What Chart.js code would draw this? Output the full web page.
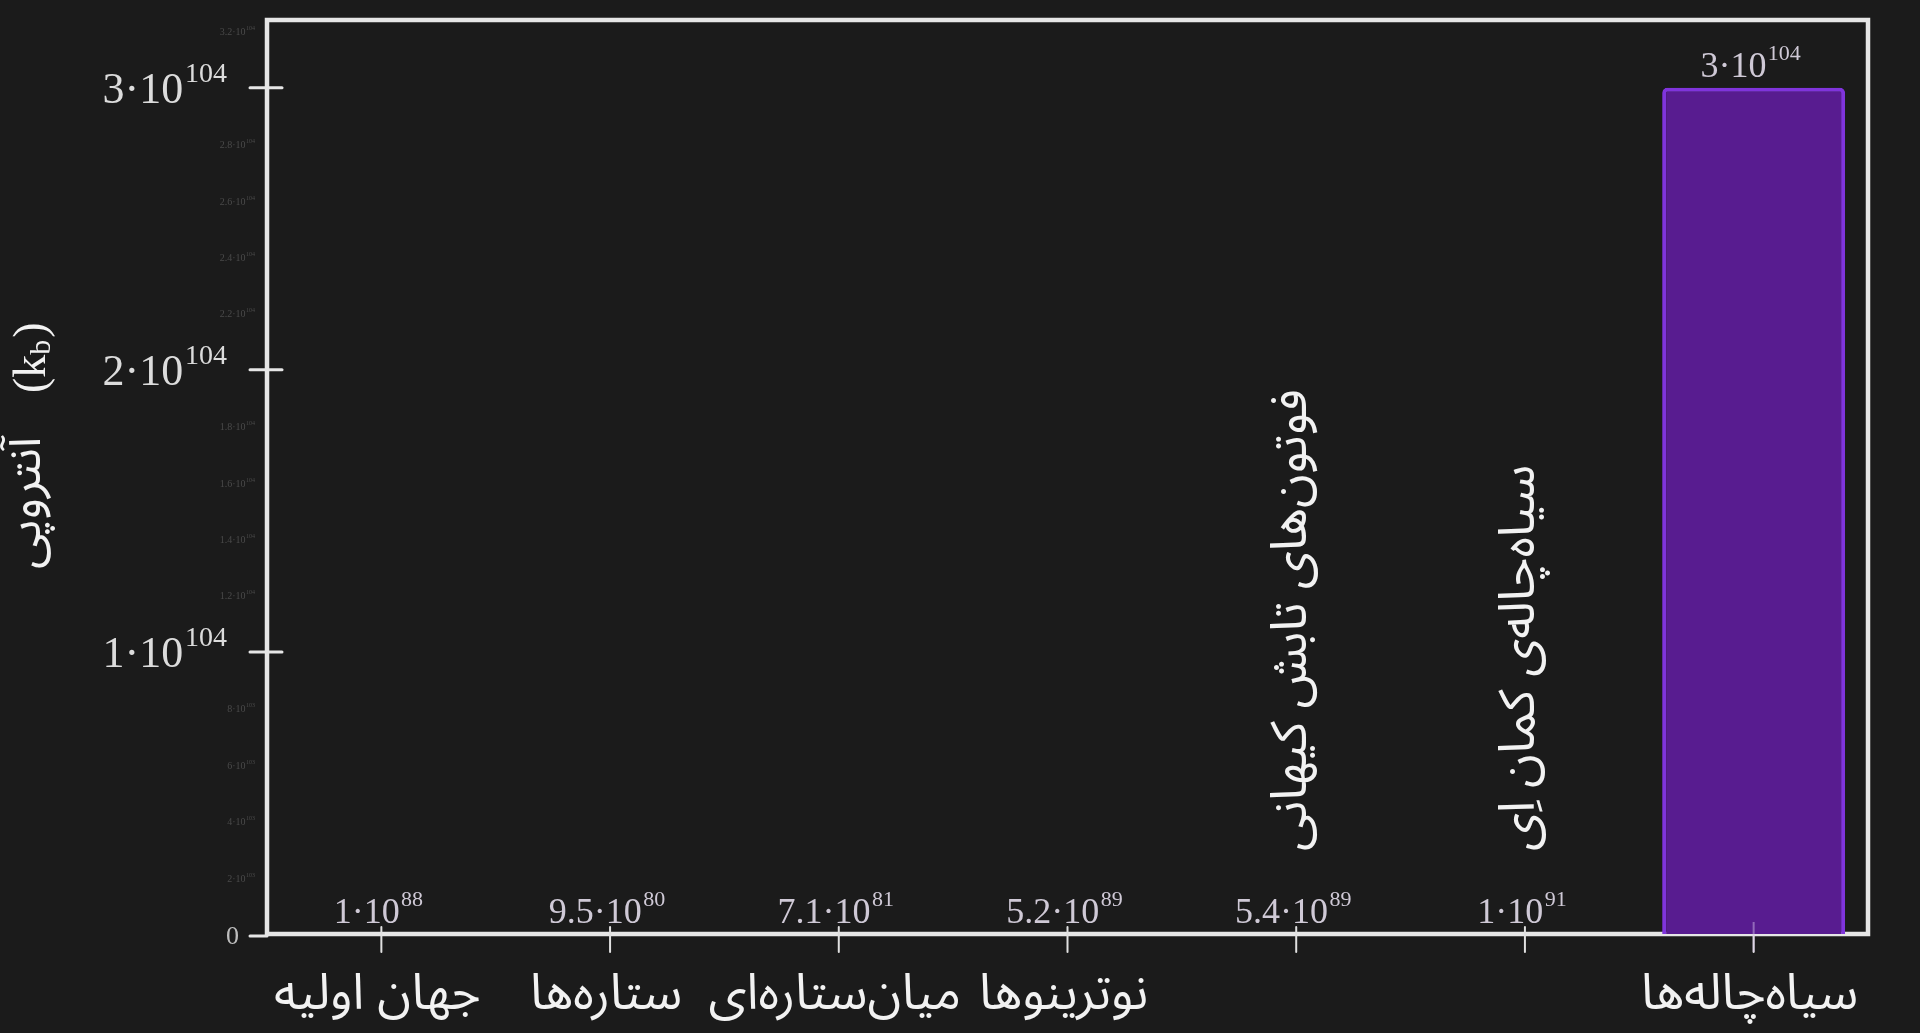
<!DOCTYPE html>
<html>
<head>
<meta charset="utf-8">
<script src="https://cdn.jsdelivr.net/npm/chart.js@4/dist/chart.umd.min.js"></script>
<style>
  html, body { margin: 0; padding: 0; background: #1b1b1b; }
  #wrap { position: relative; width: 1920px; height: 1033px; }
</style>
</head>
<body>
<div id="wrap"><canvas id="entropyChart"></canvas></div>
<script>
const categories = [
  'جهان اولیه',
  'ستاره\u200cها',
  'میان\u200cستاره\u200cای',
  'نوترینوها',
  'فوتون\u200cهای تابش کیهانی',
  'سیاه\u200cچاله\u200cی کمان ا\u0650ی',
  'سیاه\u200cچاله\u200cها',
];
const verticalLabel = [false, false, false, false, true, true, false];

const entropy       = [1e88, 9.5e80, 7.1e81, 5.2e89, 5.4e89, 1e91, 3e104];
const valueMantissa = ['1', '9.5', '7.1', '5.2', '5.4', '1', '3'];
const valueExponent = ['88', '80', '81', '89', '89', '91', '104'];

const yMax = 3.24e104;
const majorTicks    = [1e104, 2e104, 3e104];
const majorMantissa = ['1', '2', '3'];
const majorExponent = ['104', '104', '104'];
const minorTicks    = [2e103, 4e103, 6e103, 8e103, 1.2e104, 1.4e104, 1.6e104, 1.8e104,
                       2.2e104, 2.4e104, 2.6e104, 2.8e104, 3.2e104];
const minorMantissa = ['2', '4', '6', '8', '1.2', '1.4', '1.6', '1.8', '2.2', '2.4', '2.6', '2.8', '3.2'];
const minorExponent = ['103', '103', '103', '103', '104', '104', '104', '104', '104', '104', '104', '104', '104'];

const yTitle = 'آنتروپی';
const yUnit  = ['k', 'b'];

const SERIF = '"Liberation Serif", "DejaVu Serif", serif';
const FA    = '"Noto Sans Arabic", "Vazirmatn", "DejaVu Sans", sans-serif';

// mantissa·10^exp, x is the anchor, align 'center' | 'right'
function drawPow(ctx, mant, exp, x, y, size, supSize, raise, align, color) {
  ctx.save();
  ctx.fillStyle = color;
  ctx.textBaseline = 'alphabetic';
  ctx.textAlign = 'left';
  const main = mant + '\u00b7' + '10';
  ctx.font = `${size}px ${SERIF}`;
  const w1 = ctx.measureText(main).width;
  ctx.font = `${supSize}px ${SERIF}`;
  const w2 = ctx.measureText(exp).width;
  const gap = size * 0.04;
  const total = w1 + gap + w2;
  let x0 = align === 'right' ? x - total : x - total / 2;
  ctx.font = `${size}px ${SERIF}`;
  ctx.fillText(main, x0, y);
  ctx.font = `${supSize}px ${SERIF}`;
  ctx.fillText(exp, x0 + w1 + gap, y - raise);
  ctx.restore();
}

const framePlugin = {
  id: 'frame',
  beforeDatasetsDraw(chart) {
    const { ctx, chartArea: a, scales: { x, y } } = chart;
    ctx.save();
    ctx.strokeStyle = '#e6e6e6';
    ctx.lineCap = 'round';
    ctx.lineWidth = 4.5;
    ctx.strokeRect(a.left, a.top, a.right - a.left, a.bottom - a.top);

    // y major tick marks
    ctx.lineWidth = 3;
    majorTicks.forEach(v => {
      const py = y.getPixelForValue(v);
      ctx.beginPath(); ctx.moveTo(a.left - 17, py); ctx.lineTo(a.left + 15, py); ctx.stroke();
    });
    const p0 = y.getPixelForValue(0);
    ctx.beginPath(); ctx.moveTo(a.left - 17, p0 + 2); ctx.lineTo(a.left, p0 + 2); ctx.stroke();

    // x tick marks
    ctx.lineWidth = 2;
    ctx.strokeStyle = '#e0e0e0';
    categories.forEach((c, i) => {
      const px = x.getPixelForValue(i);
      ctx.beginPath(); ctx.moveTo(px, a.bottom - 7); ctx.lineTo(px, a.bottom + 18); ctx.stroke();
    });
    ctx.restore();
  },
  afterDatasetsDraw(chart) {
    const { ctx, chartArea: a, scales: { x, y } } = chart;
    const meta = chart.getDatasetMeta(0);

    // tick showing through the bar
    ctx.save();
    ctx.strokeStyle = 'rgba(220,200,240,0.45)';
    ctx.lineWidth = 2;
    const last = entropy.length - 1;
    const bx = x.getPixelForValue(last);
    ctx.beginPath(); ctx.moveTo(bx, a.bottom - 12); ctx.lineTo(bx, a.bottom + 18); ctx.stroke();
    ctx.restore();

    // value labels
    meta.data.forEach((bar, i) => {
      drawPow(ctx, valueMantissa[i], valueExponent[i], bar.x - 3, bar.y - 11,
        36, 22, 17, 'center', '#cfc9d6');
    });

    // y major labels
    majorTicks.forEach((v, i) => {
      drawPow(ctx, majorMantissa[i], majorExponent[i], 227, y.getPixelForValue(v) + 15,
        44, 28, 21, 'right', '#dcdcdc');
    });
    ctx.save();
    ctx.fillStyle = '#bdbdbd';
    ctx.font = `26px ${SERIF}`;
    ctx.textAlign = 'right';
    ctx.textBaseline = 'middle';
    ctx.fillText('0', 239, y.getPixelForValue(0) + 3);
    ctx.restore();

    // y minor labels
    minorTicks.forEach((v, i) => {
      drawPow(ctx, minorMantissa[i], minorExponent[i], 255, y.getPixelForValue(v) + 4,
        10, 6, 5, 'right', '#4a4a4a');
    });

    // category labels
    ctx.save();
    ctx.fillStyle = '#f2f2f2';
    ctx.font = `50px ${FA}`;
    categories.forEach((c, i) => {
      const px = x.getPixelForValue(i);
      if (verticalLabel[i]) {
        ctx.save();
        ctx.translate(px + 2, 851);
        ctx.rotate(-Math.PI / 2);
        ctx.textAlign = 'left';
        ctx.textBaseline = 'middle';
        ctx.fillText(c, 0, 0);
        ctx.restore();
      } else {
        ctx.textAlign = 'center';
        ctx.textBaseline = 'middle';
        ctx.fillText(c, px - 4, 1001);
      }
    });
    ctx.restore();

    // y axis title
    ctx.save();
    ctx.translate(33, 503);
    ctx.rotate(-Math.PI / 2);
    ctx.fillStyle = '#f2f2f2';
    ctx.textBaseline = 'middle';
    ctx.textAlign = 'center';
    ctx.font = `48px ${FA}`;
    ctx.fillText(yTitle, 0, 0);
    ctx.textAlign = 'left';
    ctx.font = `46px ${SERIF}`;
    const ux = 110;
    const s1 = '(' + yUnit[0];
    ctx.fillText(s1, ux, 0);
    const w1 = ctx.measureText(s1).width;
    ctx.font = `30px ${SERIF}`;
    ctx.fillText(yUnit[1], ux + w1, 9);
    const w2 = ctx.measureText(yUnit[1]).width;
    ctx.font = `46px ${SERIF}`;
    ctx.fillText(')', ux + w1 + w2 + 2, 0);
    ctx.restore();
  },
};

new Chart(document.getElementById('entropyChart'), {
  type: 'bar',
  data: {
    labels: categories,
    datasets: [{
      data: entropy,
      backgroundColor: '#581c90',
      borderColor: '#8034dc',
      borderWidth: 4,
      borderRadius: 5,
      barPercentage: 0.8,
      categoryPercentage: 1.0,
    }],
  },
  options: {
    responsive: true,
    maintainAspectRatio: false,
    animation: false,
    layout: { padding: { left: 267, right: 52, top: 20, bottom: 99 } },
    plugins: { legend: { display: false }, tooltip: { enabled: false } },
    scales: {
      x: { display: false },
      y: { display: false, min: 0, max: yMax },
    },
  },
  plugins: [framePlugin],
});
</script>
</body>
</html>
